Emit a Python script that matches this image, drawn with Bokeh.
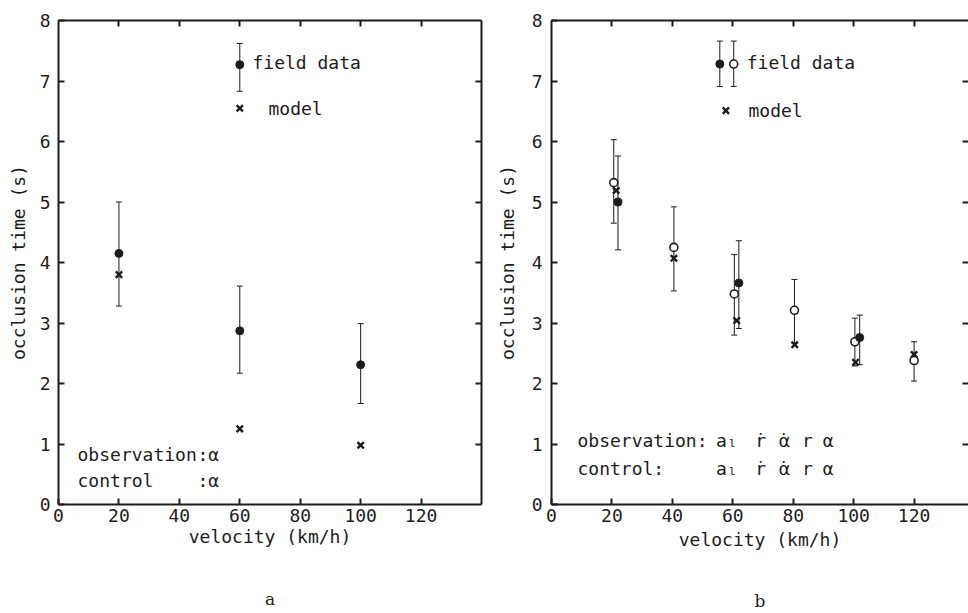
from bokeh.plotting import figure
from bokeh.layouts import row
from bokeh.models import (ColumnDataSource, Whisker, TeeHead, LinearAxis,
                          FixedTicker, Range1d)
from bokeh.embed import file_html
from bokeh.resources import INLINE
from bokeh.core.properties import value

# ---------------- data ----------------
x_ticks = [0, 20, 40, 60, 80, 100, 120]
y_ticks = [0, 1, 2, 3, 4, 5, 6, 7, 8]

# panel a
a_vel = [20, 60, 100]
a_field = [4.15, 2.87, 2.31]
a_field_hi = [5.0, 3.61, 2.99]
a_field_lo = [3.28, 2.17, 1.67]
a_model = [3.80, 1.25, 0.98]

# panel b
b_filled_vel = [22, 62, 102]
b_filled = [5.0, 3.66, 2.76]
b_filled_hi = [5.76, 4.36, 3.13]
b_filled_lo = [4.21, 2.91, 2.31]

b_open_vel = [20.6, 40.5, 60.5, 80.4, 100.4, 120]
b_open = [5.32, 4.25, 3.48, 3.21, 2.69, 2.38]
b_open_hi = [6.03, 4.92, 4.13, 3.72, 3.08, 2.69]
b_open_lo = [4.65, 3.53, 2.80, 2.67, 2.29, 2.04]

b_model_vel = [21.4, 40.5, 61.3, 80.5, 100.6, 120]
b_model = [5.19, 4.07, 3.04, 2.64, 2.35, 2.48]

# ---------------- style ----------------
FONT = "DejaVu Sans Mono"
INK = "#1c1c1c"
FS = "18px"


def style_axis(ax, ticks, labels=True, line=True):
    ax.ticker = FixedTicker(ticks=ticks)
    ax.major_tick_in = 6
    ax.major_tick_out = 0
    ax.minor_tick_in = 0
    ax.minor_tick_out = 0
    ax.major_tick_line_width = 2
    ax.major_tick_line_color = INK
    ax.axis_line_width = 2
    ax.axis_line_color = INK if line else None
    if labels:
        ax.major_label_text_font = FONT
        ax.major_label_text_font_size = FS
        ax.major_label_text_color = INK
    else:
        ax.major_label_text_font_size = "1px"
        ax.major_label_text_color = None
        ax.major_label_standoff = 0
    ax.axis_label_text_font = FONT
    ax.axis_label_text_font_size = FS
    ax.axis_label_text_font_style = "normal"
    ax.axis_label_text_color = INK


def make_fig(width, xmax, bl, br, bt, bb, ystand, ylab_stand, xlab_stand, right_line,
             caption, cap_stand):
    p = figure(width=width, height=613, x_range=Range1d(0, xmax), y_range=Range1d(0, 8),
               output_backend="svg", toolbar_location=None,
               min_border_left=bl, min_border_right=br, min_border_top=bt, min_border_bottom=bb,
               x_axis_label="velocity (km/h)", y_axis_label="occlusion time (s)")
    p.grid.visible = False
    p.outline_line_color = None
    p.background_fill_color = "white"
    p.border_fill_color = "white"
    style_axis(p.xaxis[0], x_ticks)
    style_axis(p.yaxis[0], y_ticks)
    p.xaxis[0].major_label_standoff = 4
    p.xaxis[0].axis_label_standoff = xlab_stand
    p.yaxis[0].major_label_standoff = ystand
    p.yaxis[0].axis_label_standoff = ylab_stand
    top = LinearAxis()
    style_axis(top, x_ticks[1:], labels=False)
    p.add_layout(top, "above")
    right = LinearAxis()
    style_axis(right, y_ticks[1:-1], labels=False, line=right_line)
    p.add_layout(right, "right")
    # panel caption ("a" / "b") under the x axis
    cap = LinearAxis(axis_label=caption)
    style_axis(cap, [], labels=False, line=False)
    cap.major_tick_in = 0
    cap.axis_label_standoff = cap_stand
    cap.axis_label_text_font = "DejaVu Serif"
    cap.axis_label_text_font_size = "17px"
    p.add_layout(cap, "below")
    return p


def bars(p, xs, ys, hi, lo):
    src = ColumnDataSource(dict(x=xs, y=ys, hi=hi, lo=lo))
    p.add_layout(Whisker(source=src, base="x", upper="hi", lower="lo",
                         line_color=INK, line_width=1,
                         upper_head=TeeHead(size=6, line_color=INK, line_width=1),
                         lower_head=TeeHead(size=6, line_color=INK, line_width=1)))
    return src


def filled(p, src):
    p.scatter("x", "y", source=src, marker="circle", size=8,
              fill_color=INK, line_color=INK, line_width=1)


def hollow(p, src):
    p.scatter("x", "y", source=src, marker="circle", size=8,
              fill_color="white", line_color=INK, line_width=1.6)


def crosses(p, xs, ys):
    p.scatter(xs, ys, marker="x", size=9, line_color=INK, line_width=2.4)


def texts(p, xs, ys, tx, align="left", font=FONT):
    p.text(xs, ys, text=tx, text_font=value(font), text_font_size=FS,
           text_color=INK, text_baseline="middle", text_align=align)


# ---------------- panel a ----------------
pa = make_fig(493, 140, 58, 12, 20, 106, 8, 8, 1, True, "a", 39)
src = bars(pa, a_vel, a_field, a_field_hi, a_field_lo)
filled(pa, src)
crosses(pa, a_vel, a_model)

# legend a (placement)
leg = bars(pa, [60], [7.27], [7.62], [6.83])
filled(pa, leg)
crosses(pa, [60], [6.55])
texts(pa, [64.2, 69.5], [7.3, 6.55], ["field data", "model"])
texts(pa, [6.3, 6.3], [0.82, 0.39], ["observation", "control"])
texts(pa, [46.0, 46.0], [0.82, 0.39], [":\u03b1", ":\u03b1"])

# ---------------- panel b ----------------
pb = make_fig(475, 138, 56, 0, 16, 108, 9, 11, 4, False, "b", 38)
s_open = bars(pb, b_open_vel, b_open, b_open_hi, b_open_lo)
s_fill = bars(pb, b_filled_vel, b_filled, b_filled_hi, b_filled_lo)
crosses(pb, b_model_vel, b_model)
hollow(pb, s_open)
filled(pb, s_fill)

# legend b (placement)
lf = bars(pb, [55.7], [7.28], [7.66], [6.91])
lo_ = bars(pb, [60.3], [7.28], [7.66], [6.91])
filled(pb, lf)
hollow(pb, lo_)
crosses(pb, [57.7], [6.51])
texts(pb, [64.6, 65.2], [7.3, 6.51], ["field data", "model"])

# state variables used for observation / control
rows_y = [1.05, 0.6]
texts(pb, [8.6, 8.6], rows_y, ["observation:", "control:"])
for yy in rows_y:
    texts(pb, [54.4], [yy], ["a\u2097"])
    texts(pb, [69.2, 84.7, 91.6], [yy] * 3, ["\u1e59", "r", "\u03b1"], align="center")
    texts(pb, [77.1], [yy], ["\u03b1\u0307"], align="center", font="DejaVu Sans")

layout = row(pa, pb)
open("out.html", "w").write(file_html(layout, INLINE))
